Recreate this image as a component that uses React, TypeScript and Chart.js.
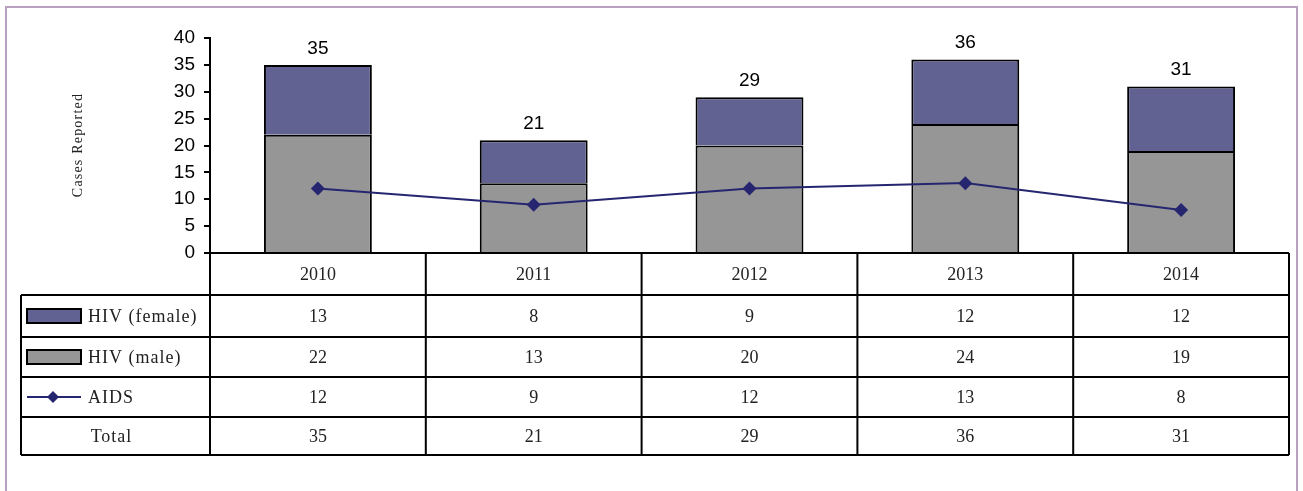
import React, { useEffect, useRef } from "react";
import { Chart, registerables } from "chart.js";

Chart.register(...registerables);

const years = ["2010", "2011", "2012", "2013", "2014"];
const hivFemale = [13, 8, 9, 12, 12];
const hivMale = [22, 13, 20, 24, 19];
const aids = [12, 9, 12, 13, 8];
const totals = [35, 21, 29, 36, 31];
const yTicks = [0, 5, 10, 15, 20, 25, 30, 35, 40];

const FEMALE = "#626292";
const MALE = "#969696";
const LINE = "#262670";
const SERIF = "'Liberation Serif', 'DejaVu Serif', serif";
const SANS = "'Liberation Sans', Arial, sans-serif";

const tablePlugin = {
  id: "tablePlugin",
  afterDraw(chart: any) {
    const ctx = chart.ctx;
    const x = chart.scales.x;
    const y = chart.scales.y;
    const left = chart.chartArea.left;
    const right = chart.chartArea.right;
    const top0 = chart.chartArea.bottom;
    const colW = (right - left) / years.length;
    const tableLeft = 21;
    const rows = [top0, 295, 337, 377, 417, 455];

    ctx.save();
    // outer frame
    ctx.strokeStyle = "#b8a2c0";
    ctx.lineWidth = 2;
    ctx.beginPath();
    ctx.moveTo(6, 600);
    ctx.lineTo(6, 7);
    ctx.lineTo(1297, 7);
    ctx.lineTo(1297, 600);
    ctx.stroke();

    // totals above bars
    ctx.fillStyle = "#000";
    ctx.font = `19px ${SANS}`;
    ctx.textAlign = "center";
    ctx.textBaseline = "bottom";
    totals.forEach((t, i) => {
      ctx.fillText(String(t), x.getPixelForValue(i), y.getPixelForValue(t) - 7);
    });

    // y axis title
    ctx.save();
    ctx.translate(78, 145);
    ctx.rotate(-Math.PI / 2);
    ctx.font = `14px ${SERIF}`;
    (ctx as any).letterSpacing = "1.2px";
    ctx.textAlign = "center";
    ctx.textBaseline = "middle";
    ctx.fillStyle = "#222";
    ctx.fillText("Cases Reported", 0, 0);
    (ctx as any).letterSpacing = "0px";
    ctx.restore();

    // table lines
    ctx.strokeStyle = "#000";
    ctx.lineWidth = 2;
    ctx.beginPath();
    ctx.moveTo(left, rows[0]);
    ctx.lineTo(right, rows[0]);
    for (let r = 1; r < rows.length; r++) {
      ctx.moveTo(tableLeft, rows[r]);
      ctx.lineTo(right, rows[r]);
    }
    for (let c = 0; c <= years.length; c++) {
      const cx = left + c * colW;
      ctx.moveTo(cx, rows[0]);
      ctx.lineTo(cx, rows[rows.length - 1]);
    }
    ctx.moveTo(tableLeft, rows[1]);
    ctx.lineTo(tableLeft, rows[rows.length - 1]);
    ctx.stroke();

    // text
    ctx.font = `18px ${SERIF}`;
    ctx.fillStyle = "#222";
    ctx.textAlign = "center";
    ctx.textBaseline = "middle";
    const mid = (r: number) => (rows[r] + rows[r + 1]) / 2;
    const tableRows = [years, hivFemale, hivMale, aids, totals];
    tableRows.forEach((arr, r) => {
      arr.forEach((v, i) => {
        ctx.fillText(String(v), x.getPixelForValue(i), mid(r) + 1);
      });
    });

    // legend column
    const sw = (r: number, color: string) => {
      const cy = mid(r);
      ctx.fillStyle = color;
      ctx.fillRect(27, cy - 7, 54, 14);
      ctx.strokeStyle = "#000";
      ctx.lineWidth = 2;
      ctx.strokeRect(27, cy - 7, 54, 14);
    };
    sw(1, FEMALE);
    sw(2, MALE);
    const ly = mid(3);
    ctx.strokeStyle = LINE;
    ctx.lineWidth = 2;
    ctx.beginPath();
    ctx.moveTo(27, ly);
    ctx.lineTo(81, ly);
    ctx.stroke();
    ctx.fillStyle = LINE;
    ctx.beginPath();
    ctx.moveTo(53, ly - 6);
    ctx.lineTo(59, ly);
    ctx.lineTo(53, ly + 6);
    ctx.lineTo(47, ly);
    ctx.closePath();
    ctx.fill();

    ctx.fillStyle = "#222";
    ctx.textAlign = "left";
    (ctx as any).letterSpacing = "1px";
    ctx.fillText("HIV (female)", 88, mid(1) + 1);
    ctx.fillText("HIV (male)", 88, mid(2) + 1);
    ctx.fillText("AIDS", 88, ly + 1);
    ctx.textAlign = "center";
    ctx.fillText("Total", (tableLeft + left) / 2 - 4, mid(4) + 1);
    (ctx as any).letterSpacing = "0px";
    ctx.restore();
  },
};

export default function App() {
  const ref = useRef<HTMLCanvasElement>(null);
  useEffect(() => {
    if (!ref.current) return;
    const chart = new Chart(ref.current, {
      type: "bar",
      data: {
        labels: years,
        datasets: [
          {
            type: "line",
            label: "AIDS",
            data: aids,
            stack: "aids",
            borderColor: LINE,
            backgroundColor: LINE,
            borderWidth: 2,
            pointStyle: "rectRot",
            pointRadius: 7,
            pointBorderWidth: 0,
            order: 0,
          } as any,
          {
            label: "HIV (male)",
            data: hivMale,
            stack: "hiv",
            backgroundColor: MALE,
            borderColor: "#000",
            borderWidth: 2,
            order: 1,
          },
          {
            label: "HIV (female)",
            data: hivFemale,
            stack: "hiv",
            backgroundColor: FEMALE,
            borderColor: "#000",
            borderWidth: 2,
            order: 1,
          },
        ],
      },
      options: {
        responsive: false,
        animation: false,
        layout: { padding: { left: 0, top: 38, right: 14, bottom: 238 } },
        plugins: { legend: { display: false }, tooltip: { enabled: false } },
        datasets: { bar: { barPercentage: 0.5, categoryPercentage: 1 } },
        scales: {
          x: { display: false, stacked: true },
          y: {
            stacked: true,
            min: 0,
            max: 40,
            afterFit: (s: any) => {
              s.width = 210;
            },
            afterBuildTicks: (s: any) => {
              s.ticks = yTicks.map((v) => ({ value: v }));
            },
            ticks: {
              font: { family: SANS, size: 19 },
              color: "#000",
              padding: 9,
            },
            grid: {
              drawOnChartArea: false,
              drawTicks: true,
              tickLength: 6,
              color: "#000",
              lineWidth: 2,
            },
            border: { display: true, color: "#000", width: 2 },
          },
        },
      } as any,
      plugins: [tablePlugin],
    });
    return () => chart.destroy();
  }, []);
  return (
    <div style={{ position: "absolute", left: 0, top: 0, width: 1303, height: 491 }}>
      <canvas ref={ref} width={1303} height={491} />
    </div>
  );
}
